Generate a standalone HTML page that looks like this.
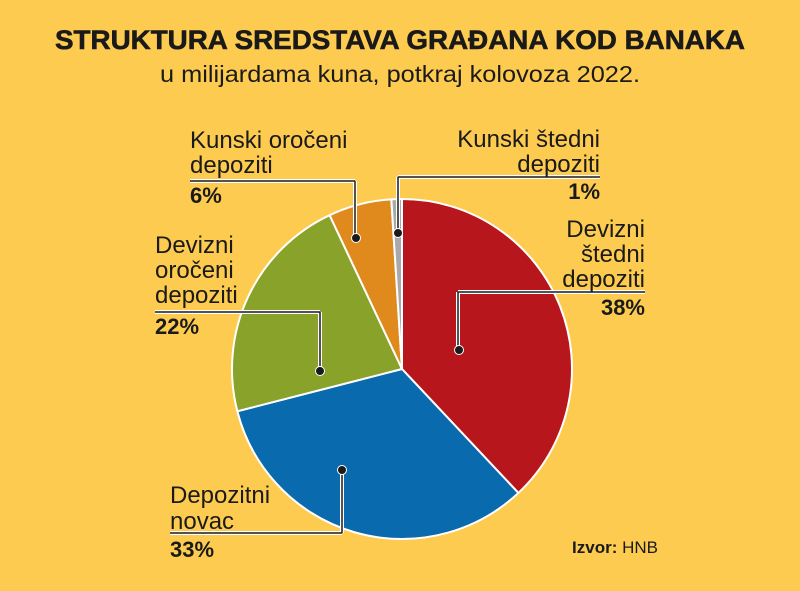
<!DOCTYPE html>
<html><head><meta charset="utf-8"><style>
body{margin:0;width:800px;height:591px;background:#fdcb4f;overflow:hidden;font-family:"Liberation Sans",sans-serif}
svg{position:absolute;left:0;top:0}
</style></head><body>
<svg width="800" height="591">
<text x="400" y="49" text-anchor="middle" font-size="27" font-weight="bold" fill="#1a1a1a" textLength="690" lengthAdjust="spacingAndGlyphs" stroke="#1a1a1a" stroke-width="0.6">STRUKTURA SREDSTAVA GRAĐANA KOD BANAKA</text>
<text x="400" y="82" text-anchor="middle" font-size="23" fill="#1a1a1a" textLength="480" lengthAdjust="spacingAndGlyphs">u milijardama kuna, potkraj kolovoza 2022.</text>
<g id="pie"></g>
<g id="labels" font-size="24" fill="#1a1a1a"></g>
<text x="658" y="553" text-anchor="end" font-size="17" fill="#1a1a1a"><tspan font-weight="bold">Izvor:</tspan> HNB</text>
</svg>
<script>
const categories=["Devizni štedni depoziti","Depozitni novac","Devizni oročeni depoziti","Kunski oročeni depoziti","Kunski štedni depoziti"];
const values=[38,33,22,6,1];
const colors=["#b7161d","#0a6aae","#89a22a","#e08a1e","#a9a9ac"];
const cx=402,cy=369,r=170;
const NS="http://www.w3.org/2000/svg";
const pie=document.getElementById('pie');
const total=values.reduce((a,b)=>a+b,0);
function pt(a,rr){return [cx+rr*Math.sin(a),cy-rr*Math.cos(a)];}
let a0=0;
values.forEach((v,i)=>{
  const a1=a0+v/total*2*Math.PI;
  const p0=pt(a0,r),p1=pt(a1,r);
  const large=(a1-a0)>Math.PI?1:0;
  const p=document.createElementNS(NS,'path');
  p.setAttribute('d',`M${cx},${cy}L${p0[0]},${p0[1]}A${r},${r} 0 ${large} 1 ${p1[0]},${p1[1]}Z`);
  p.setAttribute('fill',colors[i]);p.setAttribute('stroke','#fff');p.setAttribute('stroke-width','2');
  
  
  pie.appendChild(p);
  a0=a1;
});
const L=document.getElementById('labels');
const leaders=[
 [[[458,292],[645,292]],[458,292],[459,350]],
 [[[170,533],[342,533]],[342,533],[342,470]],
 [[[155,312],[320,312]],[320,312],[320,371]],
 [[[190,181],[355,181]],[355,181],[356,238]],
 [[[398,177],[600,177]],[398,177],[398,233]]
];
leaders.forEach((l,i)=>{
 const d=`M${l[0][0][0]},${l[0][0][1]}H${l[0][1][0]}M${l[1][0]},${l[1][1]}V${l[2][1]}`;
 ['#fff','#1a1a1a'].forEach((c,k)=>{
  const p=document.createElementNS(NS,'path');
  p.setAttribute('d',d);p.setAttribute('stroke',c);p.setAttribute('stroke-width',k?1.5:4);p.setAttribute('fill','none');
  
  
  L.appendChild(p);
 });
 const c=document.createElementNS(NS,'circle');
 c.setAttribute('cx',l[2][0]);c.setAttribute('cy',l[2][1]);c.setAttribute('r',4.5);c.setAttribute('fill','#1a1a1a');c.setAttribute('stroke','#fff');c.setAttribute('stroke-width','1');
 
 
 L.appendChild(c);
});
const texts=[
 [645,'end',[[237,'Devizni'],[262,'štedni'],[287,'depoziti']],315],
 [170,'start',[[503,'Depozitni'],[529,'novac']],557],
 [155,'start',[[253,'Devizni'],[278,'oročeni'],[303,'depoziti']],334],
 [190,'start',[[148,'Kunski oročeni'],[173,'depoziti']],203],
 [600,'end',[[147,'Kunski štedni'],[172,'depoziti']],199]
];
texts.forEach((t,i)=>{
 t[2].forEach(([y,s])=>{
  const e=document.createElementNS(NS,'text');
  e.setAttribute('x',t[0]);e.setAttribute('y',y);e.setAttribute('text-anchor',t[1]);e.textContent=s;
  
  
  L.appendChild(e);
 });
 const e=document.createElementNS(NS,'text');
 e.setAttribute('x',t[0]);e.setAttribute('y',t[3]);e.setAttribute('text-anchor',t[1]);e.setAttribute('font-weight','bold');e.setAttribute('font-size','22');
 e.textContent=values[i]+'%';
 
 
 L.appendChild(e);
});
</script>
</body></html>
